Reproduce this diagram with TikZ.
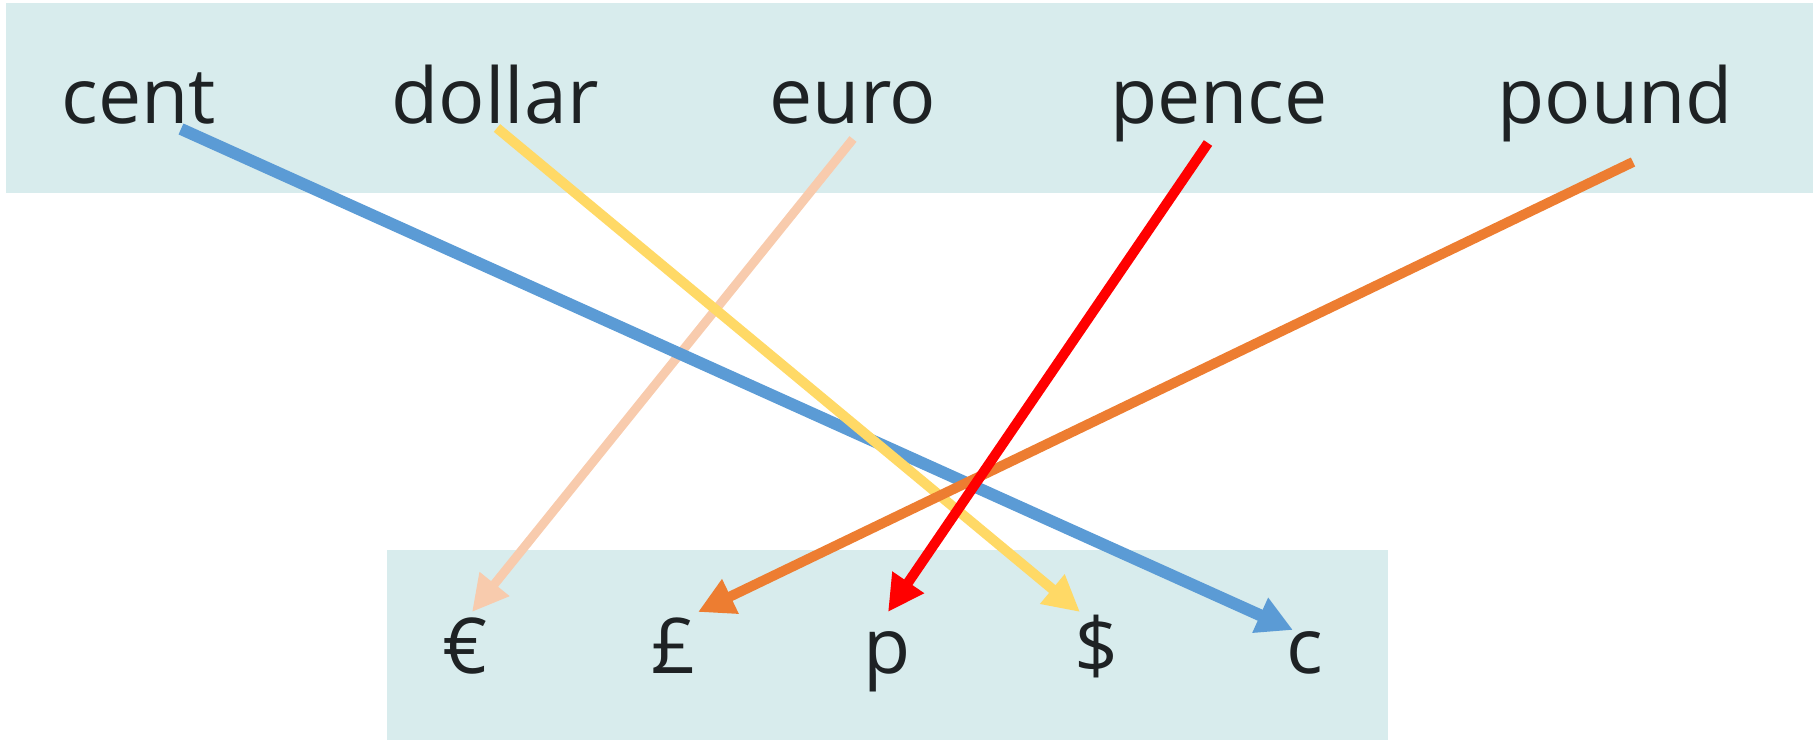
\documentclass[tikz,border=0pt]{standalone}
\usepackage{fontspec}
\setmainfont{Open Sans}
\usetikzlibrary{arrows.meta}
\definecolor{band}{RGB}{216,236,237}
\definecolor{txt}{RGB}{30,34,36}
\definecolor{cblue}{RGB}{91,155,213}
\definecolor{cyellow}{RGB}{255,217,102}
\definecolor{cpeach}{RGB}{248,203,173}
\definecolor{cred}{RGB}{255,0,0}
\definecolor{corange}{RGB}{237,125,49}
\tikzset{
  word/.style={anchor=base, inner sep=0pt, text=txt, font=\fontsize{77}{90}\selectfont},
  link/.style={line width=10pt, -{Triangle[length=36pt,width=36pt]}},
}
\begin{document}
\begin{tikzpicture}[x=1pt,y=-1pt]
\useasboundingbox (0,0) rectangle (1813,740);
\fill[band] (6,3) rectangle (1813,193);
\fill[band] (387,550) rectangle (1388,740);
\node[word] (cent)   at (139,123) {cent};
\node[word] (dollar) at (495,123) {dollar};
\node[word] (euro)   at (853,123) {euro};
\node[word] (pence)  at (1219,123) {pence};
\node[word] (pound)  at (1615,123) {pound};
\node[word] (seuro)   at (465,673) {€};
\node[word] (spound)  at (674,673) {£};
\node[word] (spence)  at (887,673) {p};
\node[word] (sdollar) at (1097,673) {\$};
\node[word] (scent)   at (1305,673) {c};
\coordinate (centS) at (181,129);
\coordinate (dollarS) at (497,128);
\coordinate (euroS) at (853,139);
\coordinate (penceS) at (1208,143);
\coordinate (poundS) at (1633,162);
\coordinate (scentE) at (1293,630);
\coordinate (sdollarE) at (1080,612);
\coordinate (seuroE) at (472,612);
\coordinate (spenceE) at (888,612);
\coordinate (spoundE) at (698,612);
\draw[link, cpeach, line width=9pt] (euroS) -- (seuroE);
\draw[link, cblue, line width=12pt] (centS) -- (scentE);
\draw[link, cyellow] (dollarS) -- (sdollarE);
\draw[link, corange] (poundS) -- (spoundE);
\draw[link, cred] (penceS) -- (spenceE);
\end{tikzpicture}
\end{document}
